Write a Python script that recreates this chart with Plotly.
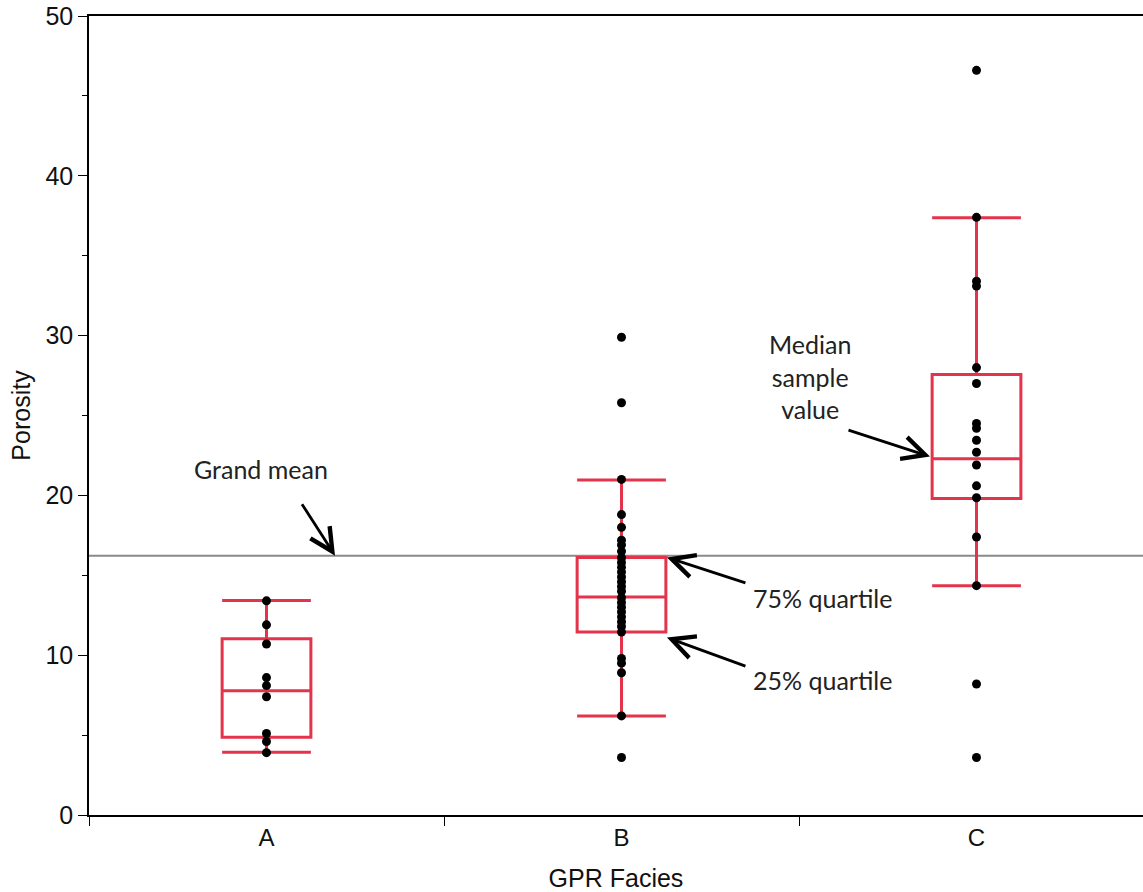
import plotly.graph_objects as go

# Porosity samples per GPR facies
facies = ["A", "B", "C"]

porosity_a = [13.4, 11.9, 10.7, 8.6, 8.1, 7.4, 5.1, 4.6, 3.9]
porosity_b = [29.9, 25.8, 21.0, 18.8, 18.0, 17.2, 16.9, 16.5, 16.1, 15.8, 15.5,
              15.2, 14.9, 14.6, 14.3, 14.0, 13.6, 13.3, 13.0, 12.7, 12.4, 12.1,
              11.8, 11.45, 9.8, 9.5, 8.9, 6.2, 3.6]
porosity_c = [46.6, 37.4, 33.4, 33.1, 28.0, 27.0, 24.5, 24.2, 23.45, 22.7, 21.9,
              20.6, 19.85, 17.4, 14.35, 8.2, 3.6]

# Box summary (whisker ends, quartiles, median) per facies
lower_whisker = [3.92, 6.2, 14.35]
q1 = [4.87, 11.45, 19.8]
median = [7.77, 13.64, 22.3]
q3 = [11.03, 16.12, 27.57]
upper_whisker = [13.43, 20.97, 37.37]

grand_mean = 16.23

RED = "#E3344C"
TICK_FONT = dict(family="Liberation Sans, Arial, sans-serif", size=25, color="#111")
NOTE_FONT = dict(family="Lato, Open Sans, sans-serif", size=25, color="#222")

fig = go.Figure()

fig.add_trace(go.Box(
    x=facies,
    q1=q1, median=median, q3=q3,
    lowerfence=lower_whisker, upperfence=upper_whisker,
    width=0.25, whiskerwidth=1,
    line=dict(color=RED, width=3),
    fillcolor="rgba(0,0,0,0)",
    boxpoints=False,
    hoverinfo="skip",
    showlegend=False,
))

for name, vals in zip(facies, [porosity_a, porosity_b, porosity_c]):
    fig.add_trace(go.Scatter(
        x=[name] * len(vals), y=vals,
        mode="markers",
        marker=dict(color="black", size=9),
        showlegend=False,
    ))

# Grand mean reference line
fig.add_shape(type="line", xref="paper", x0=0, x1=1, yref="y",
              y0=grand_mean, y1=grand_mean,
              line=dict(color="#8a8a8a", width=2), layer="below")

arrow_style = dict(showarrow=True, arrowhead=5, arrowsize=1.6, arrowwidth=2.8,
                   arrowcolor="black", text="", axref="pixel", ayref="pixel")

annotations = [
    # arrows
    dict(x=0.193, y=grand_mean, ax=-34, ay=-53, **arrow_style),
    dict(x=1.128, y=q3[1], ax=80, ay=26, **arrow_style),
    dict(x=1.128, y=11.1, ax=80, ay=29, **arrow_style),
    dict(x=1.869, y=22.43, ax=-83, ay=-27, **arrow_style),
    # labels
    dict(x=-0.0155, y=21.68, text="Grand mean", showarrow=False,
         xanchor="center", yanchor="middle", font=NOTE_FONT),
    dict(x=1.366, y=13.6, text="75% quartile", showarrow=False,
         xanchor="left", yanchor="middle", font=NOTE_FONT),
    dict(x=1.366, y=8.46, text="25% quartile", showarrow=False,
         xanchor="left", yanchor="middle", font=NOTE_FONT),
    dict(x=1.531, y=27.44, text="Median<br>sample<br>value", showarrow=False,
         xanchor="center", yanchor="middle", align="center", font=NOTE_FONT),
]

fig.update_layout(
    width=1143, height=892, autosize=False,
    margin=dict(l=89, r=0, t=16, b=77, pad=0),
    plot_bgcolor="white", paper_bgcolor="white",
    annotations=annotations,
    xaxis=dict(
        type="category", categoryorder="array", categoryarray=facies,
        range=[-0.5, 2.469],
        showgrid=False, zeroline=False,
        showline=True, linecolor="black", linewidth=2, mirror=True,
        ticks="outside", tickson="boundaries", ticklen=9, tickcolor="black",
        tickwidth=1, tickfont=dict(TICK_FONT, size=24),
        title=dict(text="GPR Facies", font=dict(family="Liberation Sans, Arial, sans-serif",
                                              size=25, color="#111"), standoff=20),
    ),
    yaxis=dict(
        range=[0, 50], dtick=10, tick0=0,
        showgrid=False, zeroline=False,
        showline=True, linecolor="black", linewidth=1.5,
        ticks="outside", ticklen=9, tickcolor="black", tickwidth=1,
        tickfont=TICK_FONT,
        minor=dict(dtick=5, ticks="outside", ticklen=5, tickcolor="black", showgrid=False),
        title=dict(text="Porosity", font=dict(family="Liberation Sans, Arial, sans-serif",
                                            size=25, color="#111"), standoff=8),
    ),
)

fig.write_html("out.html")
